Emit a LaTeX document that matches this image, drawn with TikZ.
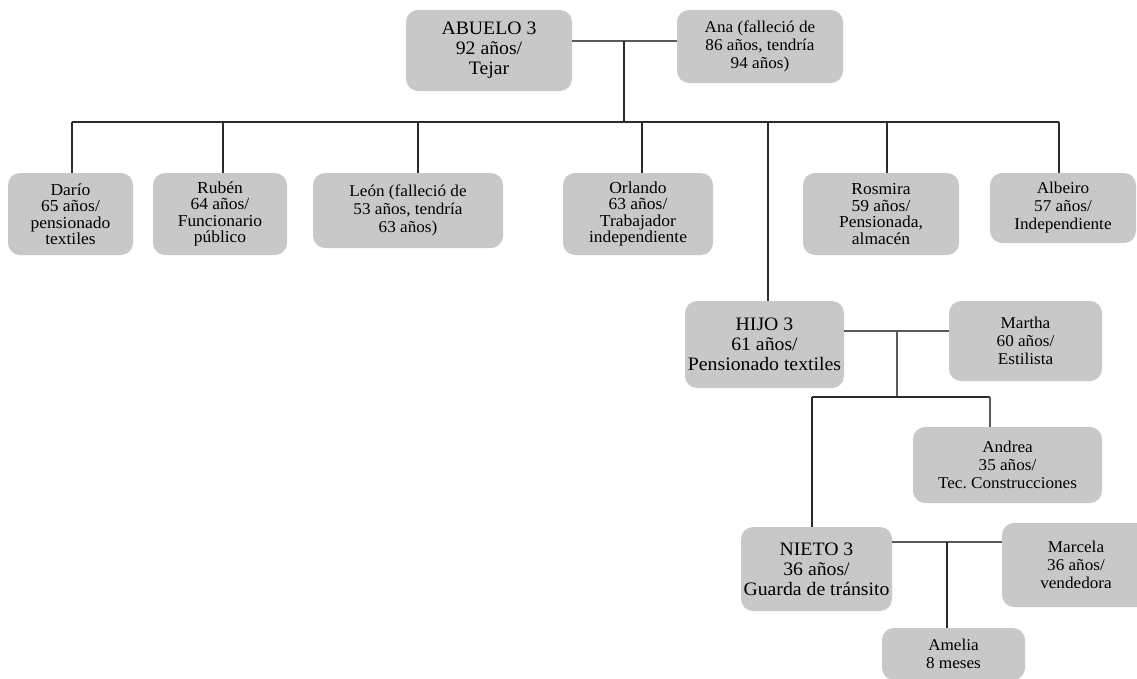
\documentclass[tikz,border=0pt]{standalone}
\usepackage{fontspec}
\setmainfont{Liberation Serif}[FakeStretch=1.04]
\usepackage{xcolor}
\usepackage{tikz}
\usetikzlibrary{positioning,calc}
\definecolor{boxgray}{HTML}{C8C8C8}
\definecolor{linec}{HTML}{2A2A2A}
\frenchspacing
\tikzset{
  person/.style={fill=boxgray,draw=none,rounded corners=12pt,inner sep=2pt,
    align=center,text=black,font=\fontsize{16.8}{16.5}\selectfont},
  personm/.style={person,font=\fontsize{16.5}{18}\selectfont},
  personb/.style={person,font=\fontsize{19}{20}\selectfont},
  link/.style={draw=linec,line width=1.1pt},
  linkg/.style={link,draw=black!65},
}
\begin{document}
\begin{tikzpicture}[x=1pt,y=-1pt]
  \useasboundingbox (0,0) rectangle (1137,678);
  % --- generation 1 ---
  \node[personb,minimum width=166,minimum height=81](abuelo) at (489,50.5){ABUELO 3\\92 años/\\Tejar};
  \node[personm,minimum width=166,minimum height=73](ana) at (760,46.5){Ana (falleció de\\86 años, tendría\\94 años)};
  % --- generation 2 ---
  \node[person,minimum width=125,minimum height=82](dario) at (70.5,214){Darío\\65 años/\\pensionado\\textiles};
  \node[person,minimum width=134,minimum height=82](ruben) at (220,214){Rubén\\64 años/\\Funcionario\\público};
  \node[personm,minimum width=190,minimum height=75](leon) at (408,210.5){León (falleció de\\53 años, tendría\\63 años)};
  \node[person,minimum width=150,minimum height=82](orlando) at (638,214){Orlando\\63 años/\\Trabajador\\independiente};
  \node[person,minimum width=156,minimum height=82](rosmira) at (881,214){Rosmira\\59 años/\\Pensionada,\\almacén};
  \node[personm,minimum width=146,minimum height=70](albeiro) at (1063,208){Albeiro\\57 años/\\Independiente};
  \node[personb,minimum width=159,minimum height=87](hijo) at (764.5,344.5){HIJO 3\\61 años/\\Pensionado textiles};
  \node[personm,minimum width=153,minimum height=80](martha) at (1025.5,341){Martha\\60 años/\\Estilista};
  % --- generation 3 ---
  \node[personm,minimum width=189,minimum height=76](andrea) at (1007.5,465){Andrea\\35 años/\\Tec. Construcciones};
  \node[personb,minimum width=151,minimum height=84](nieto) at (816.5,569){NIETO 3\\36 años/\\Guarda de tránsito};
  \node[personm,minimum width=148,minimum height=84](marcela) at (1076,565){Marcela\\36 años/\\vendedora};
  % --- generation 4 ---
  \node[personm,minimum width=143,minimum height=52](amelia) at (953.5,654){Amelia\\8 meses};

  % couple and children of ABUELO 3
  \coordinate (m1) at (624,41);
  \coordinate (b1) at (624,122);
  \draw[linkg](abuelo.east |- m1)--(ana.west |- m1);
  \draw[link](m1)--(b1);
  \foreach \n/\x in {dario/72,ruben/223,leon/418,orlando/642,rosmira/887,albeiro/1059,hijo/768}{
    \coordinate (t\n) at (\x,122);
    \draw[link](t\n)--(t\n |- \n.north);
  }
  \draw[link](tdario)--(talbeiro);
  % couple and children of HIJO 3
  \coordinate (m2) at (897,331);
  \coordinate (tnieto) at (812,397);
  \coordinate (tandrea) at (990,397);
  \draw[linkg](hijo.east |- m2)--(martha.west |- m2);
  \draw[linkg](m2)--(m2 |- tnieto);
  \draw[link](tnieto)--(tandrea);
  \draw[link](tnieto)--(tnieto |- nieto.north);
  \draw[linkg](tandrea)--(tandrea |- andrea.north);
  % couple and child of NIETO 3
  \coordinate (m3) at (947,542);
  \draw[linkg](nieto.east |- m3)--(marcela.west |- m3);
  \draw[link](m3)--(m3 |- amelia.north);
\end{tikzpicture}
\end{document}
